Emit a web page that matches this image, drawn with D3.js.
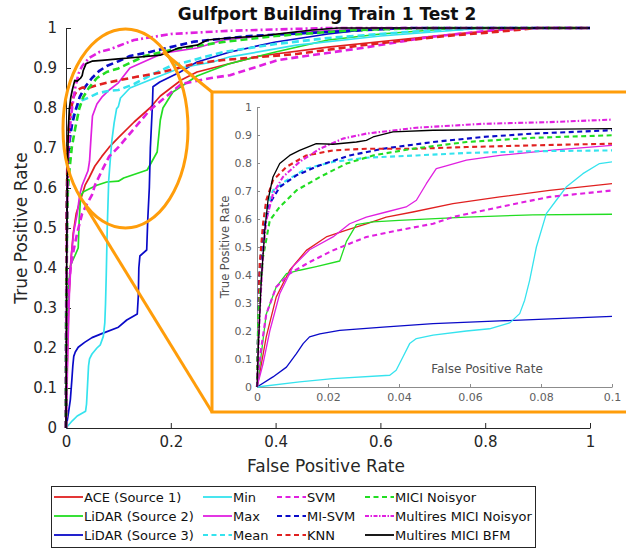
<!DOCTYPE html>
<html>
<head>
<meta charset="utf-8">
<script src="https://cdn.jsdelivr.net/npm/d3@7"></script>
<style>
  body { margin: 0; background: #fff; }
  svg text { font-family: "DejaVu Sans", sans-serif; }
</style>
</head>
<body>
<svg id="rocNode" width="626" height="550"></svg>
<script>
// ROC points [false positive rate, true positive rate]
var aceSource1 = [[0,0],[0.00075,0.048],[0.0026,0.179],[0.0054,0.321],[0.0092,0.417],[0.0139,0.488],[0.0195,0.536],[0.0252,0.56],[0.0308,0.583],[0.0364,0.607],[0.0439,0.625],[0.0552,0.655],[0.0684,0.679],[0.0824,0.702],[0.1,0.726],[0.13,0.765],[0.16,0.8],[0.18,0.83],[0.22,0.87],[0.25,0.89],[0.37,0.93],[0.5,0.952],[0.63,0.97],[0.76,0.987],[0.88,1],[1,1]];
var lidarSource2 = [[0,0],[0.0003,0.024],[0.0026,0.26],[0.0054,0.357],[0.0083,0.405],[0.012,0.417],[0.0167,0.43],[0.0233,0.45],[0.0252,0.52],[0.028,0.58],[0.0327,0.59],[0.04,0.595],[0.059,0.607],[0.0777,0.615],[0.1,0.617],[0.11,0.625],[0.155,0.645],[0.174,0.69],[0.18,0.77],[0.185,0.8],[0.204,0.84],[0.25,0.88],[0.31,0.91],[0.4,0.94],[0.5,0.97],[0.6,0.985],[0.75,1],[1,1]];
var lidarSource3 = [[0,0],[0.0045,0.036],[0.0083,0.071],[0.0111,0.119],[0.013,0.155],[0.0148,0.179],[0.0177,0.19],[0.0233,0.202],[0.0355,0.214],[0.0496,0.226],[0.0684,0.236],[0.1,0.252],[0.116,0.27],[0.136,0.285],[0.138,0.33],[0.139,0.4],[0.141,0.43],[0.154,0.445],[0.156,0.52],[0.159,0.6],[0.161,0.7],[0.165,0.81],[0.166,0.853],[0.179,0.865],[0.218,0.89],[0.25,0.915],[0.28,0.927],[0.313,0.94],[0.4,0.965],[0.5,0.985],[0.6,1],[1,1]];
var minFusion = [[0,0],[0.012,0.018],[0.0214,0.03],[0.0374,0.042],[0.0392,0.06],[0.0411,0.107],[0.043,0.155],[0.0449,0.173],[0.0496,0.185],[0.059,0.2],[0.0655,0.208],[0.0712,0.229],[0.074,0.262],[0.0754,0.31],[0.0768,0.381],[0.0787,0.5],[0.0815,0.619],[0.0843,0.667],[0.0871,0.714],[0.0918,0.762],[0.0965,0.798],[0.1,0.804],[0.104,0.825],[0.122,0.85],[0.16,0.87],[0.218,0.9],[0.28,0.915],[0.313,0.928],[0.44,0.957],[0.6,0.98],[0.8,1],[1,1]];
var maxFusion = [[0,0],[0.0017,0.083],[0.0036,0.2],[0.0064,0.333],[0.0101,0.43],[0.0148,0.49],[0.0214,0.536],[0.0261,0.583],[0.0308,0.607],[0.0364,0.625],[0.042,0.643],[0.0449,0.667],[0.0477,0.726],[0.0505,0.78],[0.0533,0.79],[0.059,0.81],[0.0684,0.827],[0.0824,0.845],[0.1,0.863],[0.122,0.9],[0.185,0.937],[0.25,0.95],[0.3,0.97],[0.45,0.99],[0.6,1],[1,1]];
var meanFusion = [[0,0],[0.00075,0.429],[0.0022,0.619],[0.0045,0.702],[0.0083,0.738],[0.0139,0.78],[0.0214,0.804],[0.0308,0.819],[0.0449,0.827],[0.059,0.836],[0.0777,0.842],[0.1,0.845],[0.13,0.86],[0.166,0.885],[0.2,0.905],[0.3,0.94],[0.4,0.96],[0.5,0.975],[0.65,0.99],[0.8,1],[1,1]];
var svm = [[0,0],[0.0012,0.14],[0.0026,0.26],[0.0054,0.357],[0.0092,0.405],[0.0148,0.446],[0.0214,0.488],[0.0308,0.536],[0.04,0.56],[0.0496,0.583],[0.0552,0.607],[0.0684,0.643],[0.0824,0.679],[0.1,0.702],[0.16,0.795],[0.22,0.86],[0.277,0.875],[0.313,0.882],[0.405,0.92],[0.565,0.95],[0.69,0.977],[0.82,0.995],[0.9,1],[1,1]];
var miSvm = [[0,0],[0.00056,0.381],[0.0017,0.548],[0.0036,0.655],[0.0064,0.714],[0.0111,0.756],[0.0177,0.792],[0.0261,0.827],[0.0355,0.851],[0.0496,0.875],[0.0637,0.893],[0.0777,0.905],[0.1,0.917],[0.122,0.93],[0.16,0.94],[0.245,0.966],[0.35,0.98],[0.5,0.99],[0.65,1],[1,1]];
var knn = [[0,0],[0.00075,0.44],[0.0017,0.583],[0.0026,0.667],[0.0045,0.738],[0.0083,0.786],[0.0139,0.827],[0.0214,0.845],[0.0308,0.851],[0.0449,0.851],[0.059,0.857],[0.0777,0.863],[0.1,0.869],[0.135,0.878],[0.185,0.89],[0.25,0.912],[0.3,0.92],[0.44,0.935],[0.565,0.957],[0.725,0.98],[0.82,0.99],[0.9,1],[1,1]];
var miciNoisyor = [[0,0],[0.00038,0.262],[0.0017,0.464],[0.0036,0.595],[0.0064,0.643],[0.0111,0.702],[0.0177,0.75],[0.0252,0.798],[0.0327,0.827],[0.0439,0.851],[0.059,0.875],[0.0777,0.89],[0.1,0.899],[0.15,0.93],[0.2,0.945],[0.3,0.965],[0.4,0.98],[0.55,0.995],[0.7,1],[1,1]];
var multiresNoisyor = [[0,0],[0.00075,0.262],[0.0017,0.476],[0.0026,0.595],[0.0045,0.69],[0.0073,0.75],[0.012,0.804],[0.0177,0.851],[0.0242,0.887],[0.0308,0.905],[0.0449,0.926],[0.0637,0.94],[0.0824,0.946],[0.1,0.955],[0.13,0.97],[0.2,0.985],[0.31,0.993],[0.5,1],[1,1]];
var multiresBfm = [[0,0],[0.00038,0.143],[0.0012,0.381],[0.0022,0.56],[0.0031,0.667],[0.0045,0.75],[0.0064,0.798],[0.0092,0.827],[0.012,0.845],[0.0167,0.869],[0.0214,0.867],[0.028,0.875],[0.0308,0.881],[0.0327,0.893],[0.0383,0.911],[0.0496,0.917],[0.0684,0.919],[0.1,0.923],[0.12,0.925],[0.18,0.932],[0.215,0.95],[0.25,0.957],[0.27,0.97],[0.31,0.975],[0.37,0.98],[0.47,0.995],[0.52,1],[1,1]];

var seriesNames = ["ACE (Source 1)", "LiDAR (Source 2)", "LiDAR (Source 3)", "Min", "Max", "Mean",
                   "SVM", "MI-SVM", "KNN", "MICI Noisyor", "Multires MICI Noisyor", "Multires MICI BFM"];
var seriesData = [aceSource1, lidarSource2, lidarSource3, minFusion, maxFusion, meanFusion,
                  svm, miSvm, knn, miciNoisyor, multiresNoisyor, multiresBfm];

var mainTicks = [0, 0.2, 0.4, 0.6, 0.8, 1];
var mainYTicks = [0, 0.1, 0.2, 0.3, 0.4, 0.5, 0.6, 0.7, 0.8, 0.9, 1];
var insetXTicks = [0, 0.02, 0.04, 0.06, 0.08, 0.1];

// line styles (matlab-ish)
var styles = [
  {color: "#e02020", kind: "solid"},
  {color: "#22dd22", kind: "solid"},
  {color: "#0a0ac8", kind: "solid"},
  {color: "#35e3ee", kind: "solid"},
  {color: "#e020e0", kind: "solid"},
  {color: "#35e3ee", kind: "dash"},
  {color: "#e020e0", kind: "dash"},
  {color: "#0a0ac8", kind: "dash"},
  {color: "#e02020", kind: "dash"},
  {color: "#22dd22", kind: "dash"},
  {color: "#e020e0", kind: "dashdot"},
  {color: "#000000", kind: "solid"}
];

var series = seriesNames.map(function(n, i) {
  return {name: n, data: seriesData[i], color: styles[i].color, kind: styles[i].kind};
});

var svg = d3.select("#rocNode");
var orange = "#ff9d0a";

function dashFor(kind, big) {
  if (kind == "dash") return big ? "7,4" : "5,3.5";
  if (kind == "dashdot") return big ? "7,3,2,3" : "5,2,1.5,2";
  return null;
}
function widthFor(kind, big) {
  if (kind == "solid") return big ? 1.7 : 1.3;
  return big ? 2.6 : 2.1;
}

// ---------- main axes ----------
var x = d3.scaleLinear().domain([0, 1]).range([66, 590]);
var y = d3.scaleLinear().domain([0, 1]).range([428, 28]);

var xAxis = svg.append("g")
    .attr("transform", "translate(0," + y(0) + ")")
    .call(d3.axisBottom(x).tickValues(mainTicks).tickFormat(d3.format("~g"))
      .tickSizeInner(-5).tickSizeOuter(0).tickPadding(8));
var yAxis = svg.append("g")
    .attr("transform", "translate(" + x(0) + ",0)")
    .call(d3.axisLeft(y).tickValues(mainYTicks).tickFormat(d3.format("~g"))
      .tickSizeInner(-5).tickSizeOuter(0).tickPadding(9));
[xAxis, yAxis].forEach(function(a) {
  a.selectAll("path, line").attr("stroke", "#262626");
  a.selectAll("text").attr("fill", "#262626").attr("font-size", 15);
});

var line = d3.line().x(function(d) { return x(d[0]); }).y(function(d) { return y(d[1]); });

svg.append("g").attr("class", "curves")
  .selectAll("path")
  .data(series)
  .enter().append("path")
    .attr("fill", "none")
    .attr("stroke", function(d) { return d.color; })
    .attr("stroke-width", function(d) { return widthFor(d.kind, true); })
    .attr("stroke-dasharray", function(d) { return dashFor(d.kind, true); })
    .attr("stroke-linejoin", "round")
    .attr("d", function(d) { return line(d.data); });

svg.append("text")
    .attr("x", 327).attr("y", 20)
    .attr("text-anchor", "middle")
    .attr("font-weight", "bold")
    .attr("font-size", 17)
    .attr("fill", "#111")
    .text("Gulfport Building Train 1 Test 2");

svg.append("text")
    .attr("x", 326).attr("y", 472)
    .attr("text-anchor", "middle")
    .attr("font-size", 17)
    .attr("fill", "#262626")
    .text("False Positive Rate");

svg.append("text")
    .attr("transform", "translate(27,228) rotate(-90)")
    .attr("text-anchor", "middle")
    .attr("font-size", 17)
    .attr("fill", "#262626")
    .text("True Positive Rate");

// ---------- zoom marker ----------
svg.append("ellipse")
    .attr("cx", 125.5).attr("cy", 128.5)
    .attr("rx", 62.5).attr("ry", 99.5)
    .attr("fill", "none").attr("stroke", orange).attr("stroke-width", 3);
svg.append("line")
    .attr("x1", 163).attr("y1", 52).attr("x2", 212).attr("y2", 92)
    .attr("stroke", orange).attr("stroke-width", 3);
svg.append("line")
    .attr("x1", 86).attr("y1", 207).attr("x2", 212).attr("y2", 412)
    .attr("stroke", orange).attr("stroke-width", 3);

svg.append("rect")
    .attr("x", 212).attr("y", 92)
    .attr("width", 420).attr("height", 320)
    .attr("fill", "#fff").attr("stroke", orange).attr("stroke-width", 3);

// ---------- inset ----------
var xi = d3.scaleLinear().domain([0, 0.1]).range([257, 612]);
var yi = d3.scaleLinear().domain([0, 1]).range([387, 107]);

var xiAxis = svg.append("g")
    .attr("transform", "translate(0," + yi(0) + ")")
    .call(d3.axisBottom(xi).tickValues(insetXTicks).tickFormat(d3.format("~g"))
      .tickSizeInner(-3).tickSizeOuter(0).tickPadding(6));
var yiAxis = svg.append("g")
    .attr("transform", "translate(" + xi(0) + ",0)")
    .call(d3.axisLeft(yi).tickValues(mainYTicks).tickFormat(d3.format("~g"))
      .tickSizeInner(-3).tickSizeOuter(0).tickPadding(5));
[xiAxis, yiAxis].forEach(function(a) {
  a.selectAll("path, line").attr("stroke", "#8c8c8c");
  a.selectAll("text").attr("fill", "#606060").attr("font-size", 11);
});

svg.append("defs").append("clipPath").attr("id", "insetClip")
  .append("rect")
    .attr("x", 254).attr("y", 100)
    .attr("width", xi(0.1) - 254).attr("height", 290);

var lineInset = d3.line().x(function(d) { return xi(d[0]); }).y(function(d) { return yi(d[1]); });

svg.append("g").attr("class", "inset-curves")
  .attr("clip-path", "url(#insetClip)")
  .selectAll("path")
  .data(series)
  .enter().append("path")
    .attr("fill", "none")
    .attr("stroke", function(d) { return d.color; })
    .attr("stroke-width", function(d) { return widthFor(d.kind, false); })
    .attr("stroke-dasharray", function(d) { return dashFor(d.kind, false); })
    .attr("stroke-linejoin", "round")
    .attr("d", function(d) { return lineInset(d.data.filter(function(p) { return p[0] <= 0.1; })); });

svg.append("text")
    .attr("x", 487).attr("y", 373)
    .attr("text-anchor", "middle")
    .attr("font-size", 12)
    .attr("fill", "#505050")
    .text("False Positive Rate");

svg.append("text")
    .attr("transform", "translate(229,247) rotate(-90)")
    .attr("text-anchor", "middle")
    .attr("font-size", 11.5)
    .attr("fill", "#505050")
    .text("True Positive Rate");

// ---------- legend ----------
var legend = svg.append("g").attr("class", "legend");
legend.append("rect")
    .attr("x", 51.5).attr("y", 486.5)
    .attr("width", 484).attr("height", 61)
    .attr("fill", "#fff").attr("stroke", "#262626").attr("stroke-width", 1);

var colX = [54, 203, 277, 365];
var rowY = [497, 516, 535];

var items = legend.selectAll("g.item")
  .data(series)
  .enter().append("g")
    .attr("class", "item")
    .attr("transform", function(d, i) {
      return "translate(" + colX[Math.floor(i / 3)] + "," + rowY[i % 3] + ")";
    });
items.append("line")
    .attr("x1", 0).attr("x2", 29).attr("y1", 0).attr("y2", 0)
    .attr("stroke", function(d) { return d.color; })
    .attr("stroke-width", function(d) { return d.kind == "solid" ? 1.8 : 2.2; })
    .attr("stroke-dasharray", function(d) {
      if (d.kind == "dash") return "5,3.5";
      if (d.kind == "dashdot") return "4,1.5,1.5,1.5";
      return null;
    });
items.append("text")
    .attr("x", 30).attr("y", 5)
    .attr("font-size", 13)
    .attr("fill", "#111")
    .text(function(d) { return d.name; });
</script>
</body>
</html>
